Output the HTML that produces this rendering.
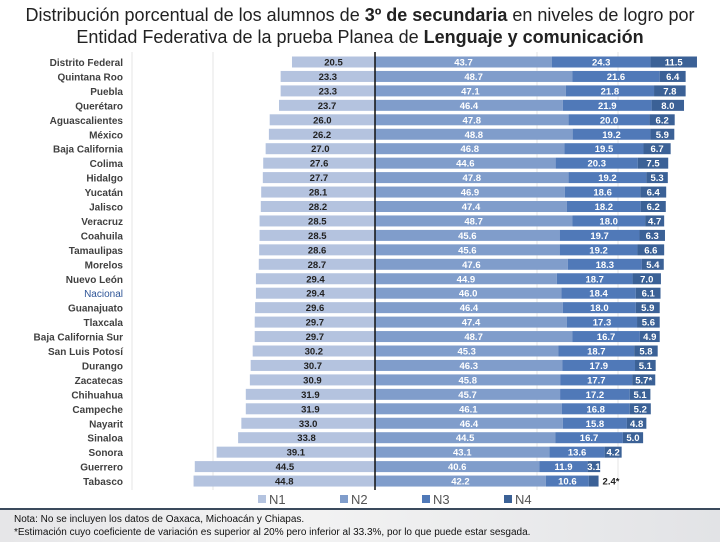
<!DOCTYPE html>
<html><head><meta charset="utf-8"><style>
body{margin:0;width:720px;height:540px;background:#fff;font-family:"Liberation Sans",sans-serif;overflow:hidden;position:relative}
#title{position:absolute;left:0;top:4px;width:720px;text-align:center;font-size:18px;line-height:22px;color:#222}
#foot{position:absolute;left:0;top:508px;width:720px;height:32px;background:linear-gradient(90deg,#e6e6e8,#f3f3f3 40%,#e2e3e6);border-top:2px solid #3a4a5c}
#foot div{font-size:10px;color:#111;padding-left:14px;line-height:13px}
</style></head><body>
<div id="title">Distribución porcentual de los alumnos de <b>3º de secundaria</b> en niveles de logro por<br>Entidad Federativa de la prueba Planea de <b>Lenguaje y comunicación</b></div>
<svg id="chart" width="720" height="508" style="position:absolute;left:0;top:0"></svg>
<div id="foot"><div style="margin-top:3px">Nota: No se incluyen los datos de Oaxaca, Michoacán y Chiapas.</div><div>*Estimación cuyo coeficiente de variación es superior al 20% pero inferior al 33.3%, por lo que puede estar sesgada.</div></div>
<script>
const states=["Distrito Federal","Quintana Roo","Puebla","Querétaro","Aguascalientes","México","Baja California","Colima","Hidalgo","Yucatán","Jalisco","Veracruz","Coahuila","Tamaulipas","Morelos","Nuevo León","Nacional","Guanajuato","Tlaxcala","Baja California Sur","San Luis Potosí","Durango","Zacatecas","Chihuahua","Campeche","Nayarit","Sinaloa","Sonora","Guerrero","Tabasco"];
const n1=[20.5,23.3,23.3,23.7,26.0,26.2,27.0,27.6,27.7,28.1,28.2,28.5,28.5,28.6,28.7,29.4,29.4,29.6,29.7,29.7,30.2,30.7,30.9,31.9,31.9,33.0,33.8,39.1,44.5,44.8];
const n2=[43.7,48.7,47.1,46.4,47.8,48.8,46.8,44.6,47.8,46.9,47.4,48.7,45.6,45.6,47.6,44.9,46.0,46.4,47.4,48.7,45.3,46.3,45.8,45.7,46.1,46.4,44.5,43.1,40.6,42.2];
const n3=[24.3,21.6,21.8,21.9,20.0,19.2,19.5,20.3,19.2,18.6,18.2,18.0,19.7,19.2,18.3,18.7,18.4,18.0,17.3,16.7,18.7,17.9,17.7,17.2,16.8,15.8,16.7,13.6,11.9,10.6];
const n4=[11.5,6.4,7.8,8.0,6.2,5.9,6.7,7.5,5.3,6.4,6.2,4.7,6.3,6.6,5.4,7.0,6.1,5.9,5.6,4.9,5.8,5.1,5.7,5.1,5.2,4.8,5.0,4.2,3.1,2.4];
const n4star=[22,29];
const legendNames=["N1","N2","N3","N4"];
const colors=["#b4c3df","#809dcb","#5079b8","#3b6196"];
const svg=document.getElementById('chart');const NS="http://www.w3.org/2000/svg";
const cx=375,k=4.05,y0=62,step=14.45,bh=11;
const X=v=>cx+v*k, Y=i=>y0+i*step;
function mk(t,a,p){const e=document.createElementNS(NS,t);for(const q in a)e.setAttribute(q,a[q]);(p||svg).appendChild(e);return e;}
[-60,-40,40,60].forEach(g=>{const l=mk('line',{x1:X(g),x2:X(g),y1:52,y2:490,stroke:'#e4e4e4','stroke-width':1});

});
states.forEach((s,i)=>{const y=Y(i);
 const t=mk('text',{x:123,y:y+4,'text-anchor':'end','font-size':10,'font-weight':s==="Nacional"?'normal':'bold',fill:s==="Nacional"?'#2f5597':'#404040'});t.textContent=s;
 
 
 const segs=[[-n1[i],0,0],[0,n2[i],1],[n2[i],n2[i]+n3[i],2],[n2[i]+n3[i],n2[i]+n3[i]+n4[i],3]];
 const vals=[n1[i],n2[i],n3[i],n4[i]];
 segs.forEach((sg,j)=>{const r=mk('rect',{x:X(sg[0]),y:y-bh/2,width:(sg[1]-sg[0])*k,height:bh,fill:colors[j]});
  
  
  let star=(j===3&&n4star.includes(i))?'*':'';
  let outside=(j===3&&i===29);
  const tx=outside?X(sg[1])+4:(sg[0]+sg[1])/2*k+cx;
  const tl=mk('text',{x:tx,y:y+3.5,'text-anchor':outside?'start':'middle','font-size':9.5,'font-weight':'bold',fill:j===0||outside?'#222':'#fff'});
  tl.textContent=vals[j].toFixed(1)+star;
  
  });
});
const ax=mk('line',{x1:cx,x2:cx,y1:52,y2:490,stroke:'#111','stroke-width':1.5});


legendNames.forEach((n,j)=>{const lx=258+j*82;
 const r=mk('rect',{x:lx,y:495,width:8,height:8,fill:colors[j]});
 
 
 const t=mk('text',{x:lx+11,y:504,'font-size':13,fill:'#555'});t.textContent=n;
 
 });
</script>
</body></html>
